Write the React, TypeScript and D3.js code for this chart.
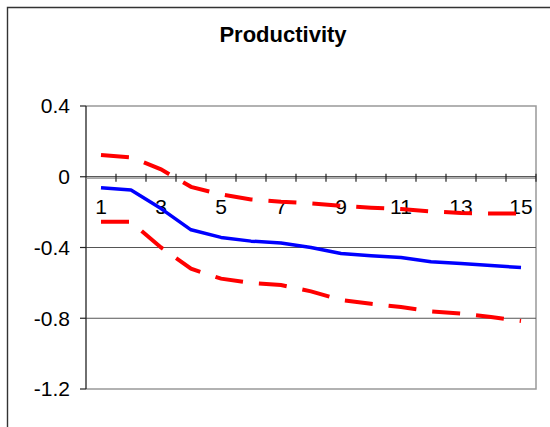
import React from "react";
import * as d3 from "d3";

const periods: number[] = [1, 2, 3, 4, 5, 6, 7, 8, 9, 10, 11, 12, 13, 14, 15];
const estimate: number[] = [-0.062, -0.075, -0.18, -0.3, -0.343, -0.364, -0.374, -0.4, -0.434, -0.447, -0.457, -0.481, -0.491, -0.502, -0.513];
const upperBand: number[] = [0.123, 0.11, 0.042, -0.057, -0.1, -0.128, -0.141, -0.15, -0.164, -0.175, -0.183, -0.196, -0.205, -0.208, -0.208];
const lowerBand: number[] = [-0.255, -0.255, -0.4, -0.52, -0.576, -0.6, -0.612, -0.648, -0.697, -0.718, -0.737, -0.761, -0.774, -0.793, -0.815];
const yTicks: number[] = [0.4, 0, -0.4, -0.8, -1.2];
const xLabels: number[] = [1, 3, 5, 7, 9, 11, 13, 15];
const title = "Productivity";

const W = 550;
const H = 427;
const plotL = 86;
const plotR = 536;
const plotT = 106;
const plotB = 389;
const font = "'Liberation Sans', Arial, sans-serif";

const fmtY = (t: number) => (t === 0 ? "0" : t.toFixed(1));

export default function App() {
  const x = d3.scaleBand<number>().domain(periods).range([plotL, plotR]);
  const y = d3.scaleLinear().domain([-1.2, 0.4]).range([plotB, plotT]);
  const cx = (p: number) => (x(p) as number) + x.bandwidth() / 2;
  const line = d3
    .line<number>()
    .x((_, i) => cx(periods[i]))
    .y((d) => y(d));
  const y0 = y(0);

  return (
    <svg width={W} height={H} style={{ position: "absolute", left: 0, top: 0, background: "#fff" }}>
      <rect x={0} y={0} width={W} height={H} fill="#fff" />
      {/* outer frame */}
      <path d={`M7.5,${H + 2} L7.5,7.5 L${W + 2},7.5`} fill="none" stroke="#333" strokeWidth={1.4} />
      <text x={283} y={42} textAnchor="middle" fontFamily={font} fontWeight="bold" fontSize={22} fill="#000">
        {title}
      </text>
      {/* plot border */}
      <path d={`M${plotL},${plotT} L${plotR},${plotT} L${plotR},${plotB} L${plotL},${plotB}`} fill="none" stroke="#999" strokeWidth={1.5} />
      {/* gridlines */}
      {yTicks
        .filter((t) => t !== 0 && t !== 0.4 && t !== -1.2)
        .map((t) => (
          <line key={"g" + t} x1={plotL} x2={plotR} y1={y(t)} y2={y(t)} stroke="#555" strokeWidth={1} />
        ))}
      {/* y axis */}
      <line x1={plotL} x2={plotL} y1={plotT} y2={plotB} stroke="#222" strokeWidth={1.3} />
      {yTicks.map((t) => (
        <g key={"y" + t}>
          <line x1={plotL - 6} x2={plotL} y1={y(t)} y2={y(t)} stroke="#222" strokeWidth={1.2} />
          <text x={70} y={y(t)} dy="0.35em" textAnchor="end" fontFamily={font} fontSize={21} fill="#000">
            {fmtY(t)}
          </text>
        </g>
      ))}
      {/* x axis at zero */}
      <line x1={plotL} x2={plotR} y1={y0 + 1.5} y2={y0 + 1.5} stroke="#888" strokeWidth={1} />
      <line x1={plotL} x2={plotR} y1={y0} y2={y0} stroke="#222" strokeWidth={1.2} />
      {periods.map((p) => (
        <line key={"xt" + p} x1={(x(p) as number) + x.bandwidth()} x2={(x(p) as number) + x.bandwidth()} y1={y0 - 3} y2={y0 + 5} stroke="#222" strokeWidth={1.2} />
      ))}
      {xLabels.map((p) => (
        <text key={"xl" + p} x={cx(p)} y={214} textAnchor="middle" fontFamily={font} fontSize={21} fill="#000">
          {p}
        </text>
      ))}
      {/* series */}
      <path d={line(upperBand) || ""} fill="none" stroke="#ff0000" strokeWidth={4} strokeDasharray="28,16" />
      <path d={line(lowerBand) || ""} fill="none" stroke="#ff0000" strokeWidth={4} strokeDasharray="28,16" />
      <path d={line(estimate) || ""} fill="none" stroke="#0000ff" strokeWidth={3.5} strokeLinejoin="round" />
    </svg>
  );
}
